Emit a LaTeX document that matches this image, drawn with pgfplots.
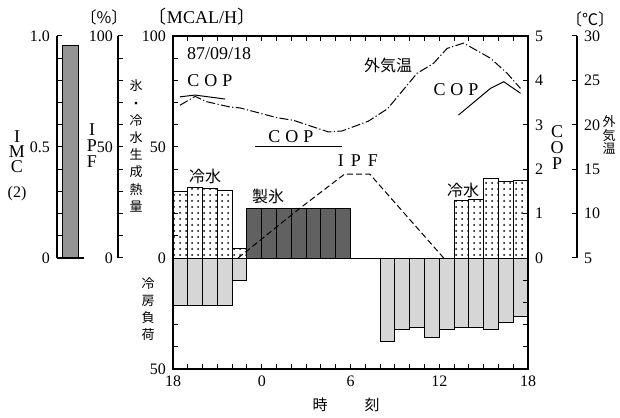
\documentclass[border=0pt]{standalone}
\usepackage{fontspec}
\setmainfont{Liberation Serif}
\newfontfamily\jp{Noto Sans CJK JP}
\usepackage{pgfplots}
\pgfplotsset{compat=1.18}
\usetikzlibrary{patterns}
\begin{document}
\begin{tikzpicture}
\useasboundingbox (0,0) rectangle (310pt,208.5pt);
\pgfplotsset{
  base/.style={scale only axis, anchor=south west,
    axis line style={line width=0.6pt},
    every tick/.style={black,line width=0.5pt},
    major tick length=2.5pt, minor tick length=2.5pt,
    tick align=inside,
    /pgf/number format/assume math mode=true,
    tick label style={font=\fontsize{8}{8}\selectfont},
    clip=false},
}
% ---------- main axis (MCAL/H) ----------
\begin{axis}[base, at={(86.5pt,24pt)}, width=177.5pt, height=166.5pt,
  xmin=0, xmax=24, ymin=-50, ymax=100,
  xtick={0,6,12,18,24}, xticklabels={18,0,6,12,18},
  minor xtick={1,...,23}, xtick pos=both, xticklabel pos=lower,
  ytick={-50,0,50,100}, yticklabels={50,0,50,100},
  minor ytick={-40,-30,...,90}, ytick pos=left]
% cooling load (negative)
\addplot[ybar, bar width=1, bar shift=0pt, draw=black, line width=0.5pt, fill=black!16]
  coordinates {(0.5,-21.4) (1.5,-21.4) (2.5,-21.4) (3.5,-21.4) (4.5,-10)
  (14.5,-37.6) (15.5,-32.1) (16.5,-31.1) (17.5,-35.7) (18.5,-32.1)
  (19.5,-31.5) (20.5,-31.1) (21.5,-32.1) (22.5,-29.2) (23.5,-26.5)};
% chilled water
\addplot[ybar, bar width=1, bar shift=0pt, draw=black, line width=0.5pt, pattern=dots]
  coordinates {(0.5,30.0) (1.5,31.7) (2.5,31.1) (3.5,30.5) (4.5,4.2)
  (19.5,25.9) (20.5,26.4) (21.5,36.0) (22.5,34.5) (23.5,35.0)};
% ice making
\addplot[ybar, bar width=1, bar shift=0pt, draw=black, line width=0.5pt, fill=black!62]
  coordinates {(5.5,22.5) (6.5,22.5) (7.5,22.5) (8.5,22.5) (9.5,22.5) (10.5,22.5) (11.5,22.5)};
\draw[line width=0.5pt] (axis cs:0,0) -- (axis cs:24,0);
% IPF (%)
\addplot[black, line width=0.5pt, dash pattern=on 3pt off 1.6pt]
  coordinates {(4.4,0) (8.5,22) (11.6,37.8) (13.3,37.8) (18.3,0)};
\end{axis}
% ---------- outdoor temperature data ----------
\begin{axis}[base, at={(86.5pt,24pt)}, width=177.5pt, height=166.5pt,
  xmin=0, xmax=24, ymin=-7.5, ymax=30, hide axis]
\addplot[black, line width=0.5pt, dash pattern=on 4.5pt off 1.2pt on 0.6pt off 1.2pt]
  coordinates {(0.47,22.2) (1.49,23.2) (2.28,22.6) (3.86,22.0) (4.54,21.9)
  (6.57,21.0) (7.02,20.8) (8.15,20.5) (9.05,20.0) (10.5,19.2) (11.42,19.3)
  (13.2,20.4) (14.5,21.8) (15.2,23.2) (16.5,25.8) (17.6,26.9) (18.53,28.6)
  (19.65,29.2) (21.46,27.5) (22.59,25.8) (23.49,24.1)};
\end{axis}
% ---------- COP axis ----------
\begin{axis}[base, at={(86.5pt,24pt)}, width=177.5pt, height=166.5pt,
  xmin=0, xmax=24, ymin=-2.5, ymax=5,
  axis y line*=right, hide x axis,
  ytick={0,1,2,3,4,5}, extra y ticks={-2,-1.5,-1,-0.5},
  extra y tick labels={}]
\addplot[black, line width=0.5pt] coordinates {(0.47,3.63) (1.49,3.67) (3.52,3.58)};
\addplot[black, line width=0.5pt] coordinates {(5.55,2.51) (11.42,2.51)};
\addplot[black, line width=0.5pt] coordinates {(19.3,3.22) (21.46,3.82) (22.36,3.97) (23.5,3.71)};
\end{axis}
% ---------- temperature spine ----------
\begin{axis}[base, at={(283.5pt,79.5pt)}, width=5pt, height=111pt,
  xmin=0, xmax=1, ymin=5, ymax=30,
  axis y line*=right, hide x axis,
  ytick={5,10,15,20,25,30}]
\end{axis}
% ---------- IPF spine ----------
\begin{axis}[base, at={(59pt,79.5pt)}, width=5pt, height=111pt,
  xmin=0, xmax=1, ymin=0, ymax=100,
  axis y line*=left, hide x axis,
  yticklabel style={xshift=1pt},
  ytick={0,50,100}, minor ytick={10,20,...,90}]
\end{axis}
% ---------- IMC axis ----------
\begin{axis}[base, at={(28.5pt,79.5pt)}, width=13.5pt, height=111pt,
  xmin=0, xmax=1, ymin=0, ymax=1,
  axis y line*=left, axis x line*=bottom, xtick=\empty,
  ytick={0,0.5,1}, yticklabels={0,0.5,1.0},
  minor ytick={0.1,0.2,0.3,0.4,0.6,0.7,0.8,0.9}]
\addplot[ybar, bar width=0.556, bar shift=0pt, draw=black, line width=0.5pt, fill=black!42]
  coordinates {(0.5,0.955)};
\end{axis}
% ---------- texts ----------
\begin{scope}[x=0.5pt, y=-0.5pt, yshift=208.5pt]
\node[font=\fontsize{9}{10}\selectfont] at (219,54) {87/09/18};
\node[font=\fontsize{9}{10}\selectfont] at (210,81) {C\hspace{2.5pt}O\hspace{2.5pt}P};
\node[font=\fontsize{9}{10}\selectfont] at (291,137) {C\hspace{2.5pt}O\hspace{2.5pt}P};
\node[font=\fontsize{9}{10}\selectfont] at (456,90) {C\hspace{2.5pt}O\hspace{2.5pt}P};
\node[font=\fontsize{9}{10}\selectfont] at (358,161) {I\hspace{3.5pt}P\hspace{3.5pt}F};
\node[font=\jp\fontsize{8}{9}\selectfont] at (388,65) {外気温};
\node[font=\jp\fontsize{8}{9}\selectfont] at (205,176) {冷水};
\node[font=\jp\fontsize{8}{9}\selectfont] at (268,196) {製氷};
\node[font=\jp\fontsize{8}{9}\selectfont] at (463,190) {冷水};
\node[font=\jp\fontsize{6.5}{8.6}\selectfont, align=center, inner sep=0pt] at (136,146) {氷\\・\\冷\\水\\生\\成\\熱\\量};
\node[font=\jp\fontsize{6.5}{8.5}\selectfont, align=center, inner sep=0pt] at (148,309) {冷\\房\\負\\荷};
\node[font=\jp\fontsize{7.5}{9}\selectfont] at (320,405) {時};
\node[font=\jp\fontsize{7.5}{9}\selectfont] at (372,405) {刻};
\node[font=\fontsize{9}{8}\selectfont, align=center, inner sep=0pt] at (557,148) {C\\O\\P};
\node[font=\fontsize{9}{8}\selectfont, align=center, inner sep=0pt] at (92,146) {I\\P\\F};
\node[font=\fontsize{9}{7.5}\selectfont, align=center, inner sep=0pt] at (17,152) {I\\M\\C};
\node[font=\fontsize{8}{9}\selectfont] at (17,194) {(2)};
\node[font=\jp\fontsize{6.5}{6.75}\selectfont, align=center, inner sep=0pt] at (609,135) {外\\気\\温};
\node[font=\jp\fontsize{8}{9}\selectfont] at (104,17) {〔\%〕};
\node[font=\fontsize{9}{9}\selectfont] at (202,17) {{\jp 〔}MCAL/H{\jp 〕}};
\node[font=\jp\fontsize{8}{9}\selectfont] at (590,19) {〔℃〕};
\end{scope}
\end{tikzpicture}
\end{document}
